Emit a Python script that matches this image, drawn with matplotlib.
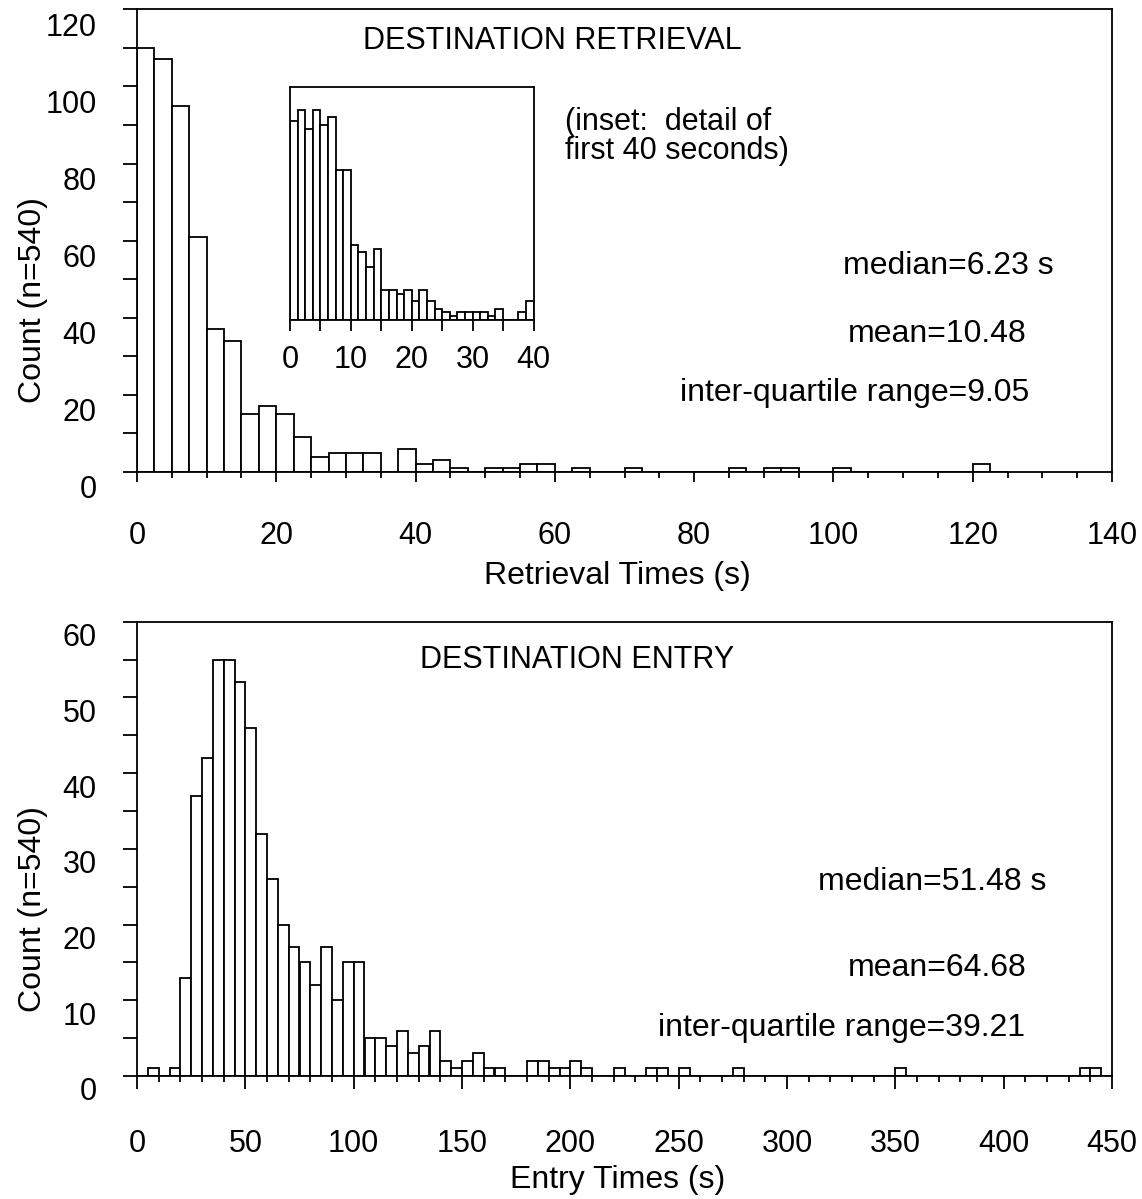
import numpy as np
import matplotlib
matplotlib.use("Agg")
import matplotlib.pyplot as plt
from matplotlib.ticker import MultipleLocator
from matplotlib.transforms import ScaledTranslation

plt.rcParams['font.family'] = ['Liberation Sans', 'DejaVu Sans']
plt.rcParams['font.size'] = 22

W, H = 1142, 1199

# destination retrieval times, 2.5 s bins starting at 0 s
ret_bin = 2.5
ret_counts = [110, 107, 95, 61, 37, 34, 15, 17, 15, 9,
              4, 5, 5, 5, 0, 6, 2, 3, 1, 0,
              1, 1, 2, 2, 0, 1, 0, 0, 1, 0,
              0, 0, 0, 0, 1, 0, 1, 1, 0, 0,
              1, 0, 0, 0, 0, 0, 0, 0, 2, 0]

# inset: first 40 seconds, 1.25 s bins
ins_bin = 1.25
ins_counts = [53, 56, 51, 56, 52, 54, 40, 40, 20, 18,
              14, 19, 8, 8, 7, 8, 5, 8, 5, 3,
              2, 1, 2, 2, 2, 2, 1, 3, 0, 0,
              2, 5]

# destination entry times, 5 s bins starting at 0 s
ent_bin = 5
ent_counts = [0, 1, 0, 1, 13, 37, 42, 55, 55, 52,
              46, 32, 26, 20, 17, 15, 12, 17, 10, 15,
              15, 5, 5, 4, 6, 3, 4, 6, 2, 1,
              2, 3, 1, 1, 0, 0, 2, 2, 1, 1,
              2, 1, 0, 0, 1, 0, 0, 1, 1, 0,
              1, 0, 0, 0, 0, 1, 0, 0, 0, 0,
              0, 0, 0, 0, 0, 0, 0, 0, 0, 0,
              1, 0, 0, 0, 0, 0, 0, 0, 0, 0,
              0, 0, 0, 0, 0, 0, 0, 1, 1, 0]

ret_stats = ["median=6.23 s", "mean=10.48", "inter-quartile range=9.05"]
ent_stats = ["median=51.48 s", "mean=64.68", "inter-quartile range=39.21"]


def px(x, y):
    return x / W, 1 - y / H


def hist(ax, counts, width):
    left = np.arange(len(counts)) * width
    ax.bar(left, counts, width=width, align='edge', facecolor='white',
           edgecolor='black', linewidth=1.3)


def shift_ylabels(ax, dy):
    # tick labels in the original sit a bit below their ticks
    off = ScaledTranslation(0, -dy / 100, ax.figure.dpi_scale_trans)
    for lab in ax.get_yticklabels():
        lab.set_transform(lab.get_transform() + off)


def style(ax, xmaj, xmin, ymaj, ymin, xlen, xpad):
    for s in ax.spines.values():
        s.set_linewidth(1.3)
    ax.xaxis.set_major_locator(MultipleLocator(xmaj))
    ax.xaxis.set_minor_locator(MultipleLocator(xmin))
    ax.yaxis.set_major_locator(MultipleLocator(ymaj))
    ax.yaxis.set_minor_locator(MultipleLocator(ymin))
    ax.tick_params(axis='x', which='major', direction='out', length=xlen,
                   width=1.3, pad=xpad)
    ax.tick_params(axis='x', which='minor', direction='out', length=4,
                   width=1.3)
    ax.tick_params(axis='y', which='both', direction='out', length=10,
                   width=1.3, pad=19)


fig = plt.figure(figsize=(W / 100, H / 100), dpi=100)

# top panel
ax1 = fig.add_axes([137 / W, 1 - 472 / H, 975 / W, 462.7 / H])
hist(ax1, ret_counts, ret_bin)
ax1.set_xlim(0, 140)
ax1.set_ylim(0, 120)
style(ax1, 20, 5, 20, 10, 7, 28)
ax1.set_xlabel("Retrieval Times (s)", fontsize=23)
ax1.set_ylabel("Count (n=540)", fontsize=23)
ax1.xaxis.set_label_coords(0.493, -0.192)
ax1.yaxis.set_label_coords(-89 / 975, 0.372)
shift_ylabels(ax1, 15)

fig.text(*px(363, 41), "DESTINATION RETRIEVAL", va='center', ha='left')
fig.text(*px(565, 122), "(inset:  detail of", va='center', ha='left')
fig.text(*px(565, 151), "first 40 seconds)", va='center', ha='left')
for (x, y), s in zip([(843, 266), (848, 334), (680, 393)], ret_stats):
    fig.text(*px(x, y), s, va='center', ha='left', fontsize=23)

# inset
axi = fig.add_axes([290 / W, 1 - 320 / H, 243.5 / W, 232.7 / H])
hist(axi, ins_counts, ins_bin)
axi.set_xlim(0, 40)
axi.set_ylim(0, 62)
for s in axi.spines.values():
    s.set_linewidth(1.3)
axi.xaxis.set_major_locator(MultipleLocator(10))
axi.xaxis.set_minor_locator(MultipleLocator(5))
axi.tick_params(axis='x', which='both', direction='out', length=8,
                width=1.3, pad=10)
axi.set_yticks([])

# bottom panel
ax2 = fig.add_axes([137 / W, 1 - 1076 / H, 975 / W, 454.3 / H])
hist(ax2, ent_counts, ent_bin)
ax2.set_xlim(0, 450)
ax2.set_ylim(0, 60)
style(ax2, 50, 10, 10, 5, 9, 29)
ax2.set_xlabel("Entry Times (s)", fontsize=23)
ax2.set_ylabel("Count (n=540)", fontsize=23)
ax2.xaxis.set_label_coords(0.493, -0.196)
ax2.yaxis.set_label_coords(-89 / 975, 0.368)
shift_ylabels(ax2, 13)

fig.text(*px(420, 660), "DESTINATION ENTRY", va='center', ha='left')
for (x, y), s in zip([(818, 882), (848, 968), (658, 1028)], ent_stats):
    fig.text(*px(x, y), s, va='center', ha='left', fontsize=23)

fig.savefig("out.png", dpi=100)
